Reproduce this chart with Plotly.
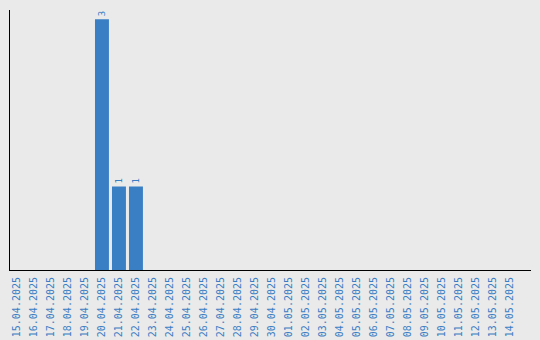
import plotly.graph_objects as go

dates = ["15.04.2025","16.04.2025","17.04.2025","18.04.2025","19.04.2025","20.04.2025",
         "21.04.2025","22.04.2025","23.04.2025","24.04.2025","25.04.2025","26.04.2025",
         "27.04.2025","28.04.2025","29.04.2025","30.04.2025","01.05.2025","02.05.2025",
         "03.05.2025","04.05.2025","05.05.2025","06.05.2025","07.05.2025","08.05.2025",
         "09.05.2025","10.05.2025","11.05.2025","12.05.2025","13.05.2025","14.05.2025"]
counts = [0,0,0,0,0,3,1,1,0,0,0,0,0,0,0,0,0,0,0,0,0,0,0,0,0,0,0,0,0,0]
labels = [str(c) if c else "" for c in counts]

blue = "#3a7ec4"
fig = go.Figure(go.Bar(
    x=dates, y=counts, text=labels, textposition="outside", textangle=-90,
    textfont=dict(family="DejaVu Sans Mono", size=9, color=blue),
    marker=dict(color=blue, line=dict(width=0)), cliponaxis=False,
))
fig.update_layout(
    width=540, height=340, margin=dict(l=10, r=9, t=10, b=70, autoexpand=False),
    paper_bgcolor="#eaeaea", plot_bgcolor="#eaeaea", showlegend=False,
    bargap=0.18,
    xaxis=dict(type="category", range=[-0.41, 30.24], showline=True, linecolor="black",
               linewidth=1, tickangle=-90, showgrid=False, ticks="", automargin=False,
               ticklabelstandoff=2,
               tickfont=dict(family="DejaVu Sans Mono", size=10, color=blue)),
    yaxis=dict(range=[0, 3.11], showline=True, linecolor="black", linewidth=1,
               showgrid=False, showticklabels=False, ticks="", zeroline=False,
               automargin=False),
)
fig.write_html("out.html")
